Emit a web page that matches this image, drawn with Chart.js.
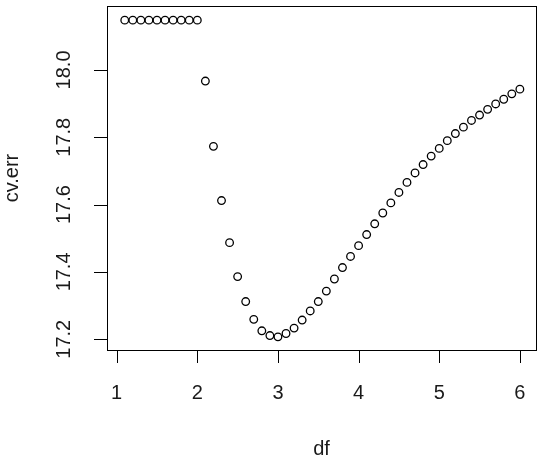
<!DOCTYPE html>
<html>
<head>
<meta charset="utf-8">
<script src="https://cdn.jsdelivr.net/npm/chart.js@4/dist/chart.umd.min.js"></script>
<style>
  html, body { margin: 0; padding: 0; background: #fff; }
  #wrap { width: 549px; height: 467px; }
</style>
</head>
<body>
<div id="wrap"><canvas id="cvChart" width="549" height="467"></canvas></div>
<script>
// degrees of freedom tried
const dfValues = [1.1, 1.2, 1.3, 1.4, 1.5, 1.6, 1.7, 1.8, 1.9, 2.0,
  2.1, 2.2, 2.3, 2.4, 2.5, 2.6, 2.7, 2.8, 2.9, 3.0,
  3.1, 3.2, 3.3, 3.4, 3.5, 3.6, 3.7, 3.8, 3.9, 4.0,
  4.1, 4.2, 4.3, 4.4, 4.5, 4.6, 4.7, 4.8, 4.9, 5.0,
  5.1, 5.2, 5.3, 5.4, 5.5, 5.6, 5.7, 5.8, 5.9, 6.0];

// cross-validation error for each df
const cvErr = [18.148, 18.148, 18.148, 18.148, 18.148, 18.148, 18.148, 18.148, 18.148, 18.148,
  17.967, 17.773, 17.612, 17.487, 17.386, 17.312, 17.259, 17.225, 17.211, 17.207,
  17.217, 17.233, 17.257, 17.284, 17.312, 17.343, 17.379, 17.413, 17.446, 17.478,
  17.511, 17.543, 17.575, 17.605, 17.636, 17.666, 17.694, 17.719, 17.744, 17.767,
  17.790, 17.811, 17.830, 17.850, 17.866, 17.883, 17.899, 17.913, 17.929, 17.943];

const xTicks = [1, 2, 3, 4, 5, 6];
const yTicks = [17.2, 17.4, 17.6, 17.8, 18.0];

const FONT = '20px "Liberation Sans", Arial, sans-serif';

// base-graphics style frame, ticks and labels
const rAxes = {
  id: 'rAxes',
  afterDraw(chart) {
    const c = chart.ctx;
    const a = chart.chartArea;
    const xs = chart.scales.x;
    const ys = chart.scales.y;
    c.save();
    c.strokeStyle = '#000';
    c.lineWidth = 1;
    c.strokeRect(a.left + 0.5, a.top + 0.5, a.right - a.left, a.bottom - a.top);

    c.fillStyle = '#1a1a1a';
    c.font = FONT;

    // x axis
    c.beginPath();
    c.moveTo(xs.getPixelForValue(xTicks[0]), a.bottom + 0.5);
    c.lineTo(xs.getPixelForValue(xTicks[xTicks.length - 1]), a.bottom + 0.5);
    xTicks.forEach(t => {
      const px = Math.round(xs.getPixelForValue(t)) + 0.5;
      c.moveTo(px, a.bottom);
      c.lineTo(px, a.bottom + 13);
    });
    c.stroke();
    c.textAlign = 'center';
    c.textBaseline = 'middle';
    xTicks.forEach(t => c.fillText(String(t), xs.getPixelForValue(t), 393));
    c.fillText('df', (a.left + a.right) / 2, 449);

    // y axis
    c.beginPath();
    c.moveTo(a.left + 0.5, ys.getPixelForValue(yTicks[0]));
    c.lineTo(a.left + 0.5, ys.getPixelForValue(yTicks[yTicks.length - 1]));
    yTicks.forEach(t => {
      const py = Math.round(ys.getPixelForValue(t)) + 0.5;
      c.moveTo(a.left, py);
      c.lineTo(a.left - 13, py);
    });
    c.stroke();
    yTicks.forEach(t => {
      c.save();
      c.translate(64, ys.getPixelForValue(t));
      c.rotate(-Math.PI / 2);
      c.fillText(t.toFixed(1), 0, 0);
      c.restore();
    });
    c.save();
    c.translate(12, (a.top + a.bottom) / 2);
    c.rotate(-Math.PI / 2);
    c.fillText('cv.err', 0, 0);
    c.restore();
    c.restore();
  }
};

const ctx = document.getElementById('cvChart').getContext('2d');
new Chart(ctx, {
  type: 'scatter',
  data: {
    datasets: [{
      data: dfValues.map((d, i) => ({ x: d, y: cvErr[i] })),
      pointStyle: 'circle',
      pointRadius: 3.8,
      borderColor: '#000',
      borderWidth: 1.3,
      backgroundColor: 'rgba(0,0,0,0)'
    }]
  },
  options: {
    responsive: false,
    animation: false,
    layout: { padding: { left: 107, right: 13, top: 6, bottom: 117 } },
    plugins: { legend: { display: false }, tooltip: { enabled: false } },
    scales: {
      x: { type: 'linear', min: 0.88, max: 6.2, display: false },
      y: { type: 'linear', min: 17.168, max: 18.19, display: false }
    }
  },
  plugins: [rAxes]
});
</script>
</body>
</html>
